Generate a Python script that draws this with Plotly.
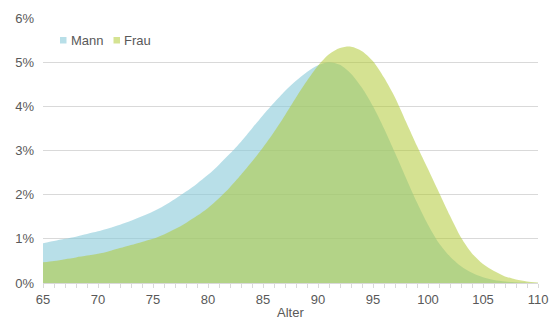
import plotly.graph_objects as go

ages = list(range(65, 111))
mann = [0.90, 0.95, 1.00, 1.05, 1.11, 1.17, 1.24, 1.32, 1.41, 1.51,
        1.62, 1.75, 1.90, 2.07, 2.25, 2.45, 2.68, 2.93, 3.20, 3.50,
        3.80, 4.08, 4.35, 4.58, 4.78, 4.93, 5.00, 4.94, 4.74, 4.42,
        4.00, 3.50, 2.95, 2.38, 1.82, 1.32, 0.90, 0.60, 0.38, 0.23,
        0.13, 0.07, 0.035, 0.016, 0.006, 0.002]
frau = [0.47, 0.50, 0.54, 0.58, 0.62, 0.66, 0.72, 0.79, 0.86, 0.93,
        1.00, 1.10, 1.22, 1.36, 1.52, 1.70, 1.92, 2.17, 2.45, 2.75,
        3.07, 3.42, 3.80, 4.20, 4.58, 4.92, 5.18, 5.32, 5.35, 5.25,
        5.02, 4.65, 4.20, 3.65, 3.10, 2.58, 2.05, 1.52, 1.03, 0.67,
        0.43, 0.27, 0.15, 0.08, 0.035, 0.01]
series_names = ["Mann", "Frau"]
x_title = "Alter"
legend_colors = ["#b8dfe8", "#d5e392"]
fill_colors = ["rgba(137,202,217,0.6)", "rgba(175,200,49,0.53)"]

fig = go.Figure()
for name, vals, fc in zip(series_names, [mann, frau], fill_colors):
    fig.add_trace(go.Scatter(x=ages, y=[v / 100 for v in vals], name=name, mode="lines",
                             showlegend=False,
                             line=dict(width=0, shape="spline", smoothing=0.8),
                             fill="tozeroy", fillcolor=fc))

# legend drawn as small squares + text (Excel-like compact legend)
W, H = 549, 320
L, R, T, B = 43, 11, 18, 37
pw, ph = W - L - R, H - T - B
def px2x(px):
    return (px - L) / pw
def py2y(py):
    return (H - B - py) / ph

legend_items = [(60, 69), (113.5, 122)]
for (sq_x, tx), name, col in zip(legend_items, series_names, legend_colors):
    fig.add_shape(type="rect", xref="paper", yref="paper",
                  x0=px2x(sq_x), x1=px2x(sq_x + 6.5), y0=py2y(43.5), y1=py2y(37),
                  fillcolor=col, line=dict(width=0))
    fig.add_annotation(xref="paper", yref="paper", x=px2x(tx), y=py2y(40.5),
                       xanchor="left", yanchor="middle", showarrow=False,
                       text=name, font=dict(size=13, color="#595959"))

# x-axis title placed near the bottom edge like the original
fig.add_annotation(xref="paper", yref="paper", x=0.5, y=py2y(312), xanchor="center",
                   yanchor="middle", showarrow=False, text=x_title,
                   font=dict(size=13, color="#595959"))

fig.update_layout(
    width=W, height=H,
    margin=dict(l=L, r=R, t=T, b=B),
    plot_bgcolor="white", paper_bgcolor="white",
    font=dict(family="Liberation Sans, Arial, sans-serif", size=13, color="#595959"),
    showlegend=False,
)
fig.update_xaxes(range=[65, 110], tickmode="linear", tick0=65, dtick=5,
                 ticks="outside", ticklen=4, tickcolor="#d9d9d9", automargin=False,
                 minor=dict(dtick=1, ticks="outside", ticklen=4, tickcolor="#d9d9d9", showgrid=False),
                 showline=True, linecolor="#d9d9d9", linewidth=1,
                 showgrid=False, zeroline=False,
                 tickfont=dict(size=13, color="#595959"))
fig.update_yaxes(range=[0, 0.06], tickmode="linear", tick0=0, dtick=0.01,
                 tickformat=".0%", showgrid=True, gridcolor="#d9d9d9", gridwidth=1,
                 zeroline=False, showline=False, ticks="", ticklabelstandoff=8,
                 automargin=False, tickfont=dict(size=13, color="#595959"))

fig.write_html("out.html")
